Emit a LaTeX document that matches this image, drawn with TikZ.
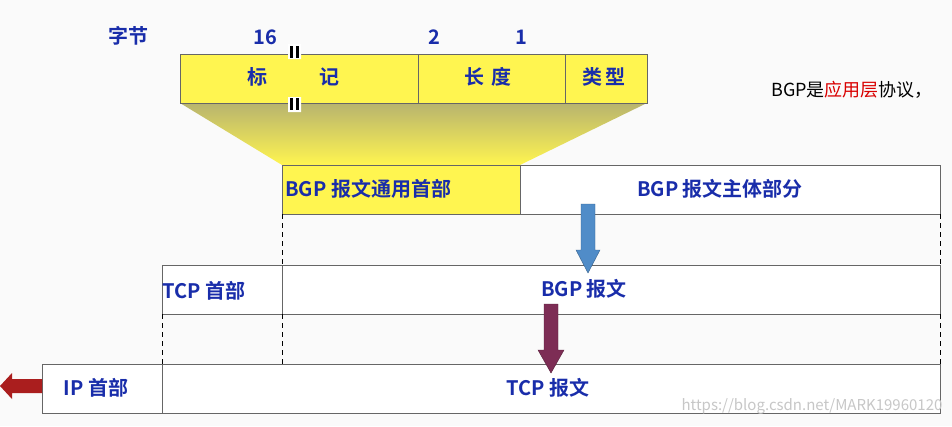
\documentclass[tikz,border=0pt]{standalone}
\usepackage{fontspec}
\setmainfont{Noto Sans CJK SC}
\newfontfamily\cjkb{Noto Sans CJK SC Bold}
\usetikzlibrary{arrows.meta}
\definecolor{tblue}{RGB}{25,45,170}
\definecolor{yel}{RGB}{255,245,80}
\definecolor{bg}{RGB}{250,250,250}
\definecolor{abl}{RGB}{80,140,200}
\definecolor{apu}{RGB}{125,45,85}
\definecolor{are}{RGB}{170,30,30}
\tikzset{x=1pt,y=-1pt,
 box/.style={draw=black!60,line width=0.6pt},
 lab/.style={text=tblue,font=\cjkb\fontsize{20}{20}\selectfont,inner sep=0pt},
 dsh/.style={draw=black,dash pattern=on 5pt off 4pt,line width=0.8pt}}
\begin{document}
\begin{tikzpicture}
\fill[bg] (0,0) rectangle (952,426);
\useasboundingbox (0,0) rectangle (952,426);
% trapezoid
\shade[top color=yel!60!black!70, bottom color=yel] (180,103) -- (647,103) -- (520,165) -- (282,165) -- cycle;
% header
\fill[yel] (180,54) rectangle (647,103);
\draw[box] (180,54) rectangle (647,103);
\draw[box] (418,54) -- (418,103) (565,54) -- (565,103);
\fill[white] (288,44) rectangle (301,59) (288,97) rectangle (301,112);
\draw[line width=2.8pt] (291.5,46) -- (291.5,58) (297.5,46) -- (297.5,58) (291.5,98) -- (291.5,110) (297.5,98) -- (297.5,110);
\node[lab] (mk1) at (257,77) {标};
\node[lab] (mk2) at (329,77) {记};
\node[lab] (ln) at (488,77) {长\hspace{0.4em}度};
\node[lab] (ty) at (604,77) {类\hspace{0.2em}型};
\node[lab] (zj) at (128,36) {字节};
\node[lab] (n16) at (265,37) {16};
\node[lab] (n2) at (434,37) {2};
\node[lab] (n1) at (521,37) {1};
\node[inner sep=0pt,font=\fontsize{18}{18}\selectfont] (bgp) at (852,90) {BGP是\textcolor{red!85!black}{应用层}协议，};
% BGP row
\fill[white] (282,165) rectangle (940,214);
\fill[yel] (282,165) rectangle (520,214);
\draw[box] (282,165) rectangle (940,214);
\draw[box] (520,165) -- (520,214);
\node[lab,anchor=west] (bh) at (285,189) {BGP 报文通用首部};
\node[lab] (bb) at (720,189) {BGP 报文主体部分};
% TCP row
\fill[white] (162,265) rectangle (940,314);
\draw[box] (162,265) rectangle (940,314);
\draw[box] (282,265) -- (282,314);
\node[lab,anchor=west] (th) at (162,291) {TCP 首部};
\node[lab] (tb) at (584,289) {BGP 报文};
% IP row
\fill[white] (42,364) rectangle (940,413);
\draw[box] (42,364) rectangle (940,413);
\draw[box] (162,364) -- (162,413);
\node[lab] (ih) at (96,388) {IP 首部};
\node[lab] (ib) at (548,388) {TCP 报文};
% dashed
\draw[dsh] (282,214) -- (282,265) (940,214) -- (940,265);
\draw[dsh] (162,314) -- (162,364) (282,314) -- (282,364) (940,314) -- (940,364);
% arrows
\fill[abl,draw=abl!70!black] (581,204) -- (595,204) -- (595,250) -- (600,250) -- (588,273) -- (576,250) -- (581,250) -- cycle;
\fill[apu,draw=apu!70!black] (544,304) -- (558,304) -- (558,350) -- (564,350) -- (551,373) -- (538,350) -- (544,350) -- cycle;
\fill[are] (42,379) -- (12,379) -- (12,373) -- (0,386) -- (12,399) -- (12,393) -- (42,393) -- cycle;
\node[text=black!22,font=\fontsize{15}{15}\selectfont,inner sep=0pt] (wm) at (812,406) {https://blog.csdn.net/MARK19960120};
\end{tikzpicture}
\end{document}
